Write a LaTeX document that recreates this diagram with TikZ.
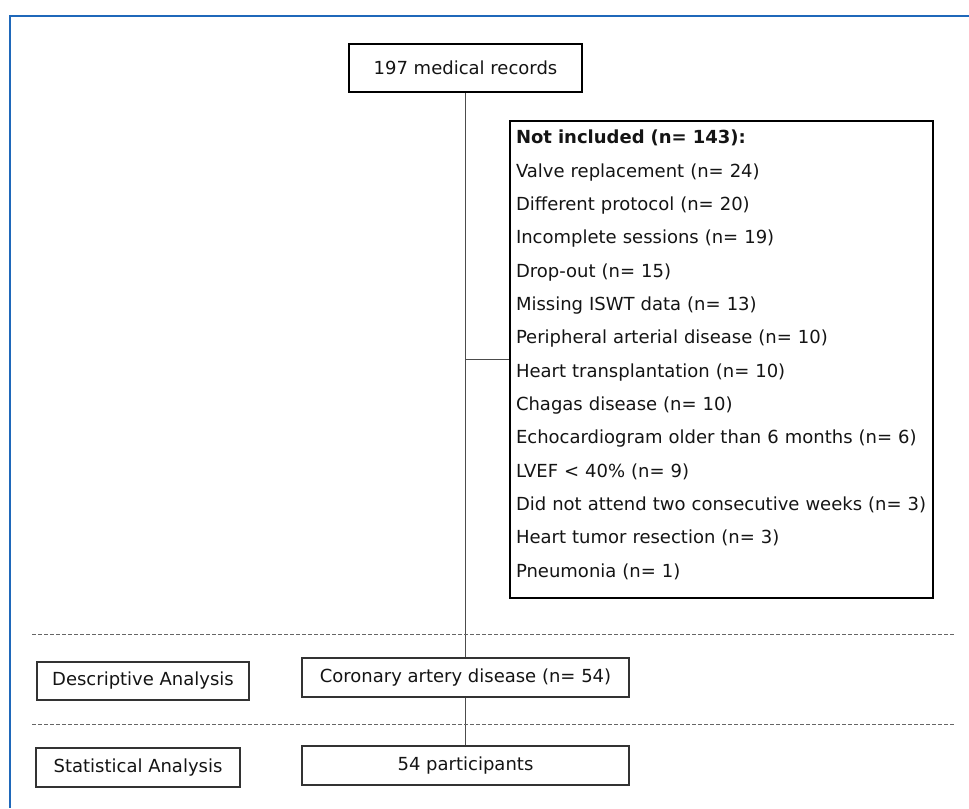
\documentclass[tikz,border=0pt]{standalone}
\usepackage{fontspec}
\setmainfont{DejaVu Sans}
\usepackage{tikz}
\usetikzlibrary{positioning}
\definecolor{frameblue}{RGB}{31,104,186}
\definecolor{inkgray}{RGB}{20,20,20}

\begin{document}
\begin{tikzpicture}[x=0.75pt, y=-0.75pt,
    every node/.style={font=\fontsize{13.5}{25}\selectfont, text=inkgray},
    heavybox/.style={draw=black, line width=1.5pt, inner sep=0pt},
    thinbox/.style={draw=black!80, line width=0.8pt, inner sep=0pt},
    link/.style={draw=black!70, line width=0.8pt},
    stagesep/.style={draw=black!60, line width=0.6pt, dash pattern=on 3pt off 1.5pt}]
    \useasboundingbox (0,0) rectangle (969,808);

    % frame
    \draw[frameblue, line width=1.5pt] (969,16) -- (10,16) -- (10,808);

    \node[heavybox, minimum width=174.75pt, minimum height=36pt] (records) at (465.5, 68) {197 medical records};
    \node[heavybox, anchor=north west, align=left, text width=308.25pt, inner xsep=4.5pt,
          minimum height=357.75pt] (notincl) at (509, 120) {%
        \textbf{Not included (n= 143):}\\
        Valve replacement (n= 24)\\
        Different protocol (n= 20)\\
        Incomplete sessions (n= 19)\\
        Drop-out (n= 15)\\
        Missing ISWT data (n= 13)\\
        Peripheral arterial disease (n= 10)\\
        Heart transplantation (n= 10)\\
        Chagas disease (n= 10)\\
        Echocardiogram older than 6 months (n= 6)\\
        LVEF < 40\% (n= 9)\\
        Did not attend two consecutive weeks (n= 3)\\
        Heart tumor resection (n= 3)\\
        Pneumonia (n= 1)\rule[-9pt]{0pt}{9pt}};

    \node[thinbox, minimum width=245.25pt, minimum height=29.25pt] (coronary) at (465.5, 677.5) {Coronary artery disease (n= 54)};
    \node[thinbox, minimum width=245.25pt, minimum height=29.25pt] (participants) at (465.5, 765.5) {54 participants};
    \node[thinbox, minimum width=159pt, minimum height=28.5pt] (descriptive) at (143, 681) {Descriptive Analysis};
    \node[thinbox, minimum width=153pt, minimum height=29.25pt] (statistical) at (138, 767.5) {Statistical Analysis};

    \coordinate (branch) at (records.south |- notincl.west);

    \draw[link] (records) -- (coronary);
    \draw[link] (branch) -- (notincl.west);
    \draw[link] (coronary) -- (participants);

    \draw[stagesep] (32, 634) -- (954, 634);
    \draw[stagesep] (32, 724) -- (954, 724);
\end{tikzpicture}
\end{document}
